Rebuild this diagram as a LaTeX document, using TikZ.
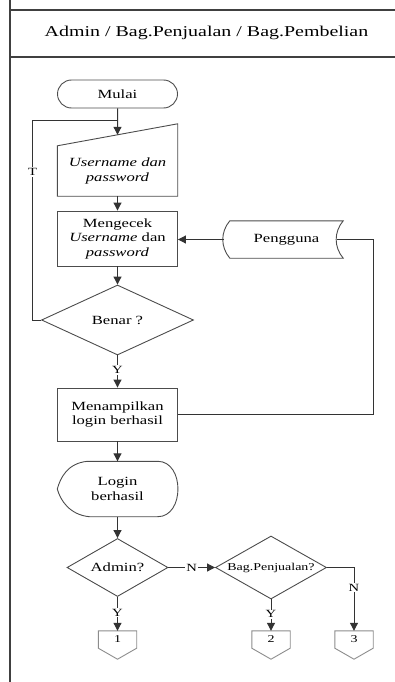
\documentclass[tikz,border=0pt]{standalone}
\usepackage{fontspec}
\setmainfont{Liberation Serif}[FakeStretch=1.33]
\usetikzlibrary{shapes.geometric,shapes.misc,arrows.meta,calc}

\begin{document}
\begin{tikzpicture}[x=1pt,y=-1pt,
  outline/.style={draw=black!70, line width=0.9pt},
  pagelink/.style={draw=black!45, line width=0.9pt},
  lbl/.style={font=\fontsize{12.5}{14.5}\selectfont, align=center, inner sep=0pt},
  small/.style={font=\fontsize{10.5}{12}\selectfont, align=center, inner sep=0pt},
  flow/.style={draw=black!80, line width=1pt, -{Triangle[length=8pt,width=8pt]}},
  link/.style={draw=black!80, line width=1pt},
  tag/.style={font=\fontsize{11}{12}\selectfont, fill=white, inner sep=1pt},
  frame/.style={draw=black!75, line width=1.4pt}]
\useasboundingbox (0,0) rectangle (395,682);

% swimlane frame and header
\draw[frame] (10,0) -- (10,682);
\draw[frame] (10,10) -- (395,10);
\draw[frame] (10,57) -- (395,57);
\node[font=\fontsize{15}{18}\selectfont] (title) at (206.5,33) {Admin / Bag.Penjualan / Bag.Pembelian};

% start
\node[rounded rectangle, outline, lbl, minimum width=120pt, minimum height=28pt] (mulai) at (117.5,94) {Mulai};

% manual input
\node[lbl, minimum width=120pt, minimum height=50pt] (input) at (117.5,171) {\textit{Username dan}\\\textit{password}};
\draw[outline] (input.north west) -- ($(input.north east)+(0,-22)$) -- (input.south east) -- (input.south west) -- cycle;
\coordinate (inTop) at ($(input.north west)!0.5!(input.north east)+(0,-11)$);
\coordinate (loopIn) at ($(mulai.south)!0.44!(inTop)$);
\draw[flow] (mulai.south) -- (inTop);

% check process
\node[lbl, outline, minimum width=120pt, minimum height=55pt] (cek) at (117.5,238.5) {Mengecek\\\textit{Username} dan\\\textit{password}};
\draw[flow] (input.south) -- (cek.north);

% stored data
\node[lbl, minimum width=113pt, minimum height=37pt] (pg) at (286.5,239.5) {Pengguna};
\draw[outline] (pg.north west) to[bend right=40] (pg.south west) -- (pg.south east) to[bend left=40] (pg.north east) -- cycle;
\coordinate (pgL) at ($(pg.west)+(-6,0)$);
\coordinate (pgR) at ($(pg.east)+(-6,0)$);
\coordinate (rail) at ($(pg.east)+(30,0)$);
\draw[flow] (pgL) -- (pgL -| cek.east);

% decision
\node[diamond, aspect=2.17, outline, lbl, minimum width=152pt, minimum height=70pt] (benar) at (117.5,320) {Benar ?};
\draw[flow] (cek.south) -- (benar.north);
\draw[link] (benar.west) -- ++(-8.5,0) |- (loopIn) node[tag, pos=0.37] {T};

% result display
\node[lbl, outline, minimum width=120pt, minimum height=53pt] (tampil) at (117.5,414.5) {Menampilkan\\login berhasil};
\draw[flow] (benar.south) -- (tampil.north) node[tag, pos=0.45] {Y};
\draw[link] (tampil.east) -- (tampil.east -| rail) |- (pgR);

% display symbol
\node[lbl, minimum width=120pt, minimum height=55pt] (disp) at (117.5,489) {Login\\berhasil};
\draw[outline] ($(disp.north west)+(30,0)$) -- ($(disp.north east)+(-20,0)$)
  .. controls ($(disp.north east)+(7,0)$) and ($(disp.south east)+(7,0)$) .. ($(disp.south east)+(-20,0)$)
  -- ($(disp.south west)+(32,0)$)
  .. controls ($(disp.south west)+(12,-2)$) and ($(disp.west)+(3,11)$) .. (disp.west)
  .. controls ($(disp.west)+(3,-11)$) and ($(disp.north west)+(10,2)$) .. ($(disp.north west)+(30,0)$) -- cycle;
\draw[flow] (tampil.south) -- (disp.north);

% role decisions
\node[diamond, aspect=1.74, outline, lbl, minimum width=101pt, minimum height=58pt] (admin) at (117.5,567.5) {Admin?};
\draw[flow] (disp.south) -- (admin.north);
\node[diamond, aspect=1.76, outline, small, minimum width=111pt, minimum height=63pt] (bag) at (271,567.5) {Bag.Penjualan?};
\draw[flow] (admin.east) -- (bag.west) node[tag, midway] {N};

% off-page connectors
\foreach \name/\xx/\num in {c1/117.5/1, c2/271/2, c3/354/3} {
  \node[small, minimum width=38pt, minimum height=17pt] (\name) at (\xx,639.5) {\num};
  \draw[pagelink] (\name.north west) -- (\name.north east) -- (\name.south east) -- ($(\name.south)+(0,11)$) -- (\name.south west) -- cycle;
}
\draw[flow] (admin.south) -- (c1.north) node[tag, pos=0.46] {Y};
\draw[flow] (bag.south) -- (c2.north) node[tag, pos=0.47] {Y};
\draw[flow] (bag.east) -| (c3.north) node[tag, pos=0.66] {N};
\end{tikzpicture}
\end{document}
